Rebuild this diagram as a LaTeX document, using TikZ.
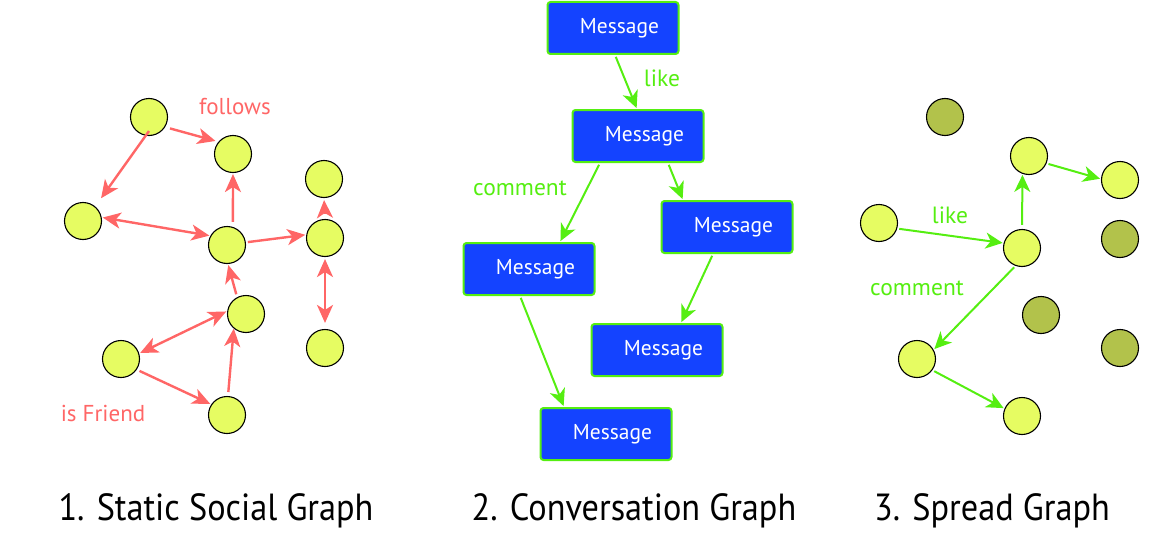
\documentclass[tikz,border=0pt]{standalone}
\usepackage{fontspec}
\setmainfont{PT Sans}
\usetikzlibrary{arrows.meta}
\definecolor{redc}{HTML}{FF6666}
\definecolor{nodey}{HTML}{E6FC62}
\definecolor{noded}{HTML}{B2C24B}
\definecolor{msgblue}{HTML}{1443FF}
\definecolor{grn}{HTML}{55EE11}
\begin{document}
\begin{tikzpicture}[x=1pt,y=-1pt,
  circ/.style={circle,draw=black,line width=1.1pt,minimum size=37pt,inner sep=0pt,fill=nodey},
  dcirc/.style={circ,fill=noded},
  redarr/.style={draw=redc,line width=2.4pt,-{Stealth[length=18pt,width=16pt,inset=5pt]},shorten >=1pt,shorten <=2pt},
  reddbl/.style={redarr,{Stealth[length=18pt,width=16pt,inset=5pt]}-{Stealth[length=18pt,width=16pt,inset=5pt]},shorten <=1pt},
  grnarr/.style={draw=grn,line width=2pt,-{Stealth[length=17pt,width=16pt,inset=5pt]},shorten >=1pt,shorten <=2pt},
  msg/.style={rectangle,rounded corners=3pt,draw=grn,line width=2pt,fill=msgblue,text=white,minimum width=131pt,minimum height=52pt,inner sep=0pt,font=\fontsize{21.5}{24}\selectfont},
  redlbl/.style={text=redc,font=\fontsize{23}{26}\selectfont,inner sep=0pt},
  grnlbl/.style={text=grn,font=\fontsize{23.5}{26}\selectfont,inner sep=0pt},
  title/.style={font=\fontsize{35}{40}\selectfont,inner sep=0pt,xscale=0.98,yscale=1.08}
]
\useasboundingbox (0,0) rectangle (1156,551);
% ---- Graph 1
\node[circ] (A) at (149,117) {};
\node[circ] (B) at (233,154) {};
\node[circ] (C) at (324,179) {};
\node[circ] (D) at (83,221) {};
\node[circ] (E) at (227,245) {};
\node[circ] (F) at (325,238) {};
\node[circ] (G) at (246,314) {};
\node[circ] (H) at (121,359) {};
\node[circ] (I) at (227,415) {};
\node[circ] (J) at (325,348) {};
\draw[redarr,shorten <=0pt,shorten >=10pt] ([yshift=5pt]A.south) -- (D.50);
\draw[redarr,shorten <=5pt,shorten >=3pt] (A.-32) -- (B.140);
\draw[redarr,shorten <=5pt] (E.72) -- (B.south);
\draw[reddbl] (D.11) -- (E.151);
\draw[redarr] (E.8) -- (F.170);
\draw[redarr,shorten <=5pt,shorten >=2pt] (F.north) -- (C.south);
\draw[reddbl,shorten <=2pt,shorten >=6pt] (F.south) -- (J.north);
\draw[redarr,shorten <=3pt] (G.118) -- (E.-87);
\draw[reddbl] (H.17) -- (G.171);
\draw[redarr,shorten <=3pt] (H.-34) -- (I.146);
\draw[redarr,shorten <=4pt,shorten >=0pt] (I.87) -- (G.-130);
\node[redlbl] (lf) at (235,107) {follows};
\node[redlbl] (lif) at (103,413) {is Friend};
% ---- Graph 2
\node[msg] (M1) at (613,28) {\hspace*{13pt}Message};
\node[msg] (M2) at (638,136) {\hspace*{13pt}Message};
\node[msg] (M3) at (727,227) {\hspace*{13pt}Message};
\node[msg] (M4) at (529,269) {\hspace*{13pt}Message};
\node[msg] (M5) at (657,350) {\hspace*{13pt}Message};
\node[msg] (M6) at (606,434) {\hspace*{13pt}Message};
\draw[grnarr] ([xshift=2pt]M1.south) -- ([xshift=-1pt]M2.north);
\draw[grnarr] ([xshift=-38pt]M2.south) -- ([xshift=31pt]M4.north);
\draw[grnarr] ([xshift=30pt]M2.south) -- ([xshift=-44pt]M3.north);
\draw[grnarr] ([xshift=-14pt]M3.south) -- ([xshift=24pt]M5.north);
\draw[grnarr] ([xshift=-9pt]M4.south) -- ([xshift=-42pt]M6.north);
\node[grnlbl] (l2a) at (662,78) {like};
\node[grnlbl] (l2b) at (520,188) {comment};
% ---- Graph 3
\node[dcirc] (K1) at (945,117) {};
\node[circ] (R1) at (1029,156) {};
\node[circ] (R2) at (1120,180) {};
\node[circ] (R3) at (879,223) {};
\node[dcirc] (K2) at (1120,239) {};
\node[circ] (R4) at (1022,248) {};
\node[dcirc] (K3) at (1041,315) {};
\node[dcirc] (K4) at (1120,348) {};
\node[circ] (R5) at (917,359) {};
\node[circ] (R6) at (1022,416) {};
\draw[grnarr] (R3.-17) -- (R4.165);
\draw[grnarr,shorten <=4pt] (R4.north) -- (R1.-110);
\draw[grnarr] (R1.-23) -- (R2.177);
\draw[grnarr] (R4.-110) -- (R5.29);
\draw[grnarr] (R5.-36) -- (R6.157);
\node[grnlbl] (l3a) at (950,215) {like};
\node[grnlbl] (l3b) at (917,288) {comment};
% ---- Titles
\node[title] (t1) at (216,511) {1. Static Social Graph};
\node[title] (t2) at (634,511) {2. Conversation Graph};
\node[title] (t3) at (992,511) {3. Spread Graph};
\end{tikzpicture}
\end{document}
